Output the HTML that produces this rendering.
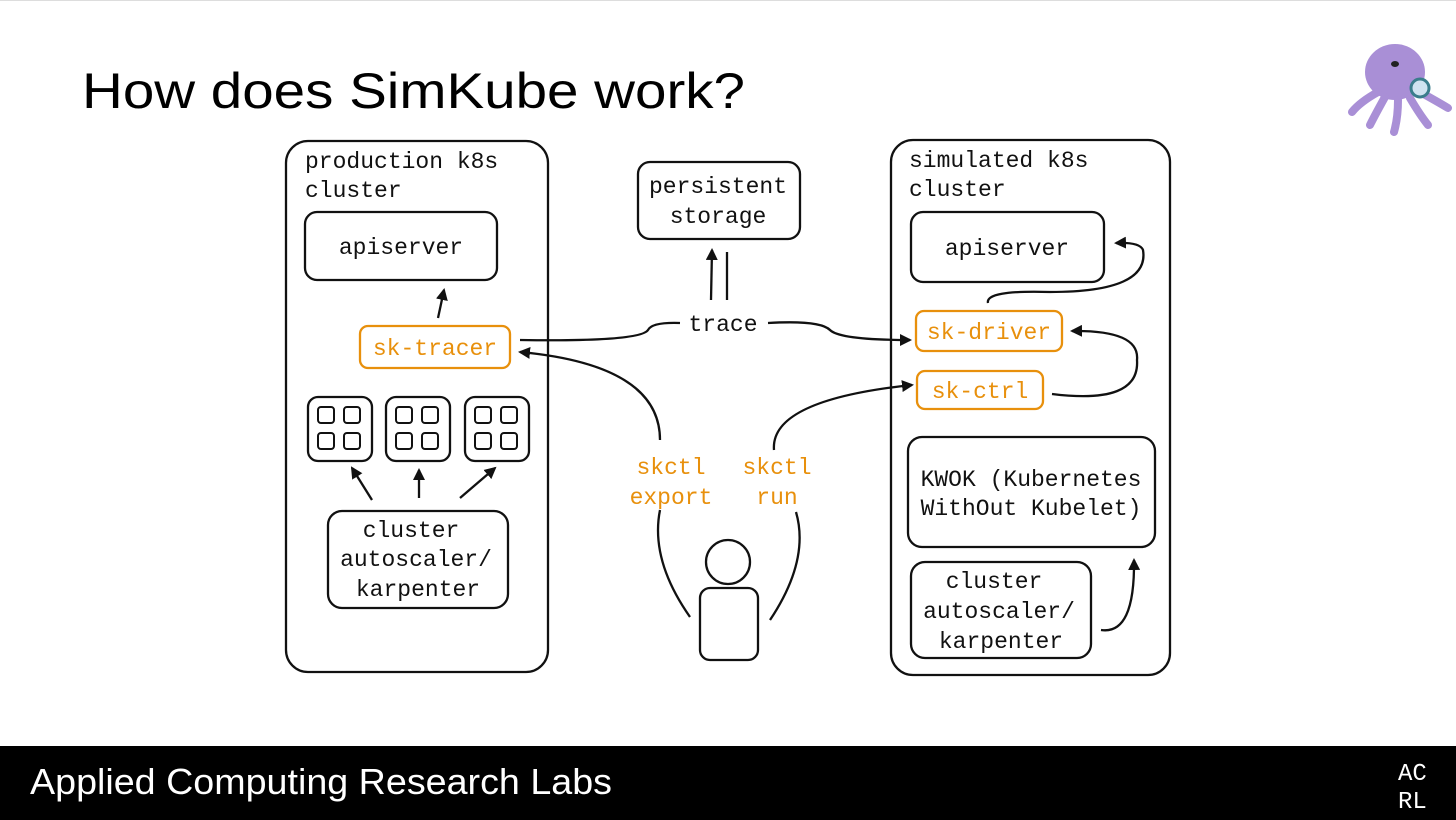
<!DOCTYPE html>
<html><head><meta charset="utf-8"><style>
html,body{margin:0;padding:0;background:#fff;width:1456px;height:820px;overflow:hidden}
svg{display:block}
.m{font-family:"Liberation Mono",monospace;font-size:23px;fill:#111}
.o{fill:#e8900c}
</style></head><body>
<svg width="1456" height="820" viewBox="0 0 1456 820" xmlns="http://www.w3.org/2000/svg">
<defs><marker id="a" markerWidth="12" markerHeight="12" refX="10" refY="6" orient="auto" markerUnits="userSpaceOnUse"><path d="M0,0 L12,6 L0,12 z" fill="#111"/></marker></defs>
<rect x="0" y="0" width="1456" height="1" fill="#ddd"/>
<text x="82" y="108" font-family="Liberation Sans,sans-serif" font-size="50" fill="#000" textLength="663" lengthAdjust="spacingAndGlyphs">How does SimKube work?</text>
<!-- octopus -->
<g>
<ellipse cx="1395" cy="72" rx="30" ry="28" fill="#a98fd6"/>
<path d="M1378,92 Q1360,102 1352,112 M1385,97 Q1375,115 1370,125 M1398,100 Q1398,118 1394,132 M1410,98 Q1420,115 1428,125 M1420,92 Q1438,102 1448,108" stroke="#a98fd6" stroke-width="8" fill="none" stroke-linecap="round"/>
<circle cx="1420" cy="88" r="9" fill="#cfe3f0" stroke="#3a7d8c" stroke-width="3"/>
<ellipse cx="1395" cy="64" rx="4" ry="3" fill="#222"/>
</g>
<g fill="none" stroke="#111" stroke-width="2.3">
<rect x="286" y="141" width="262" height="531" rx="22"/>
<rect x="305" y="212" width="192" height="68" rx="12"/>
<rect x="360" y="326" width="150" height="42" rx="8" stroke="#e8900c"/>
<rect x="308" y="397" width="64" height="64" rx="10"/>
<rect x="386" y="397" width="64" height="64" rx="10"/>
<rect x="465" y="397" width="64" height="64" rx="10"/>
<rect x="328" y="511" width="180" height="97" rx="14"/>
<rect x="638" y="162" width="162" height="77" rx="12"/>
<rect x="891" y="140" width="279" height="535" rx="22"/>
<rect x="911" y="212" width="193" height="70" rx="12"/>
<rect x="916" y="311" width="146" height="40" rx="8" stroke="#e8900c"/>
<rect x="917" y="371" width="126" height="38" rx="8" stroke="#e8900c"/>
<rect x="908" y="437" width="247" height="110" rx="14"/>
<rect x="911" y="562" width="180" height="96" rx="14"/>
<circle cx="728" cy="562" r="22"/>
<rect x="700" y="588" width="58" height="72" rx="10"/>
</g>
<g fill="none" stroke="#111" stroke-width="2.3" marker-end="url(#a)">
<path d="M438,318 L444,290"/>
<path d="M372,500 L352,468"/>
<path d="M419,498 L419,470"/>
<path d="M460,498 L495,468"/>
<path d="M711,300 L712,250"/>
<path d="M1101,630 Q1135,635 1134,560"/>
<path d="M690,617 Q650,560 660,510 M660,440 Q660,365 520,352"/>
<path d="M770,620 Q810,560 796,512 M774,450 Q770,400 912,385"/>
<path d="M988,303 Q985,290 1050,292 Q1150,292 1143,250 Q1140,242 1116,243"/>
<path d="M1052,394 Q1140,405 1137,360 Q1140,330 1072,331"/>
<path d="M768,323 Q820,320 830,330 Q840,340 910,340"/>
</g>
<g fill="none" stroke="#111" stroke-width="2.3">
<path d="M727,300 L727,252"/>
<path d="M520,340 Q640,342 648,330 Q652,322 680,323"/>
</g>
<g class="m">
<text x="305" y="168">production k8s</text>
<text x="305" y="197">cluster</text>
<text x="401" y="254" text-anchor="middle">apiserver</text>
<text x="435" y="355" text-anchor="middle" class="o">sk-tracer</text>
<text x="411" y="537" text-anchor="middle">cluster</text>
<text x="416" y="566" text-anchor="middle">autoscaler/</text>
<text x="418" y="596" text-anchor="middle">karpenter</text>
<text x="718" y="193" text-anchor="middle">persistent</text>
<text x="718" y="223" text-anchor="middle">storage</text>
<text x="723" y="331" text-anchor="middle">trace</text>
<text x="671" y="474" text-anchor="middle" class="o">skctl</text>
<text x="671" y="504" text-anchor="middle" class="o">export</text>
<text x="777" y="474" text-anchor="middle" class="o">skctl</text>
<text x="777" y="504" text-anchor="middle" class="o">run</text>
<text x="909" y="167">simulated k8s</text>
<text x="909" y="196">cluster</text>
<text x="1007" y="255" text-anchor="middle">apiserver</text>
<text x="989" y="339" text-anchor="middle" class="o">sk-driver</text>
<text x="980" y="398" text-anchor="middle" class="o">sk-ctrl</text>
<text x="1031" y="486" text-anchor="middle">KWOK (Kubernetes</text>
<text x="1031" y="515" text-anchor="middle">WithOut Kubelet)</text>
<text x="994" y="588" text-anchor="middle">cluster</text>
<text x="999" y="618" text-anchor="middle">autoscaler/</text>
<text x="1001" y="648" text-anchor="middle">karpenter</text>
</g>
<g fill="none" stroke="#111" stroke-width="2">
<rect x="318" y="407" width="16" height="16" rx="3"/><rect x="344" y="407" width="16" height="16" rx="3"/><rect x="318" y="433" width="16" height="16" rx="3"/><rect x="344" y="433" width="16" height="16" rx="3"/>
<rect x="396" y="407" width="16" height="16" rx="3"/><rect x="422" y="407" width="16" height="16" rx="3"/><rect x="396" y="433" width="16" height="16" rx="3"/><rect x="422" y="433" width="16" height="16" rx="3"/>
<rect x="475" y="407" width="16" height="16" rx="3"/><rect x="501" y="407" width="16" height="16" rx="3"/><rect x="475" y="433" width="16" height="16" rx="3"/><rect x="501" y="433" width="16" height="16" rx="3"/>
</g>
<rect x="0" y="746" width="1456" height="74" fill="#000"/>
<text x="30" y="794" font-family="Liberation Sans,sans-serif" font-size="36" fill="#fff" textLength="582" lengthAdjust="spacingAndGlyphs">Applied Computing Research Labs</text>
<text x="1398" y="780" font-family="Liberation Mono,monospace" font-size="24" fill="#fff">AC</text>
<text x="1398" y="808" font-family="Liberation Mono,monospace" font-size="24" fill="#fff">RL</text>
</svg>
</body></html>
